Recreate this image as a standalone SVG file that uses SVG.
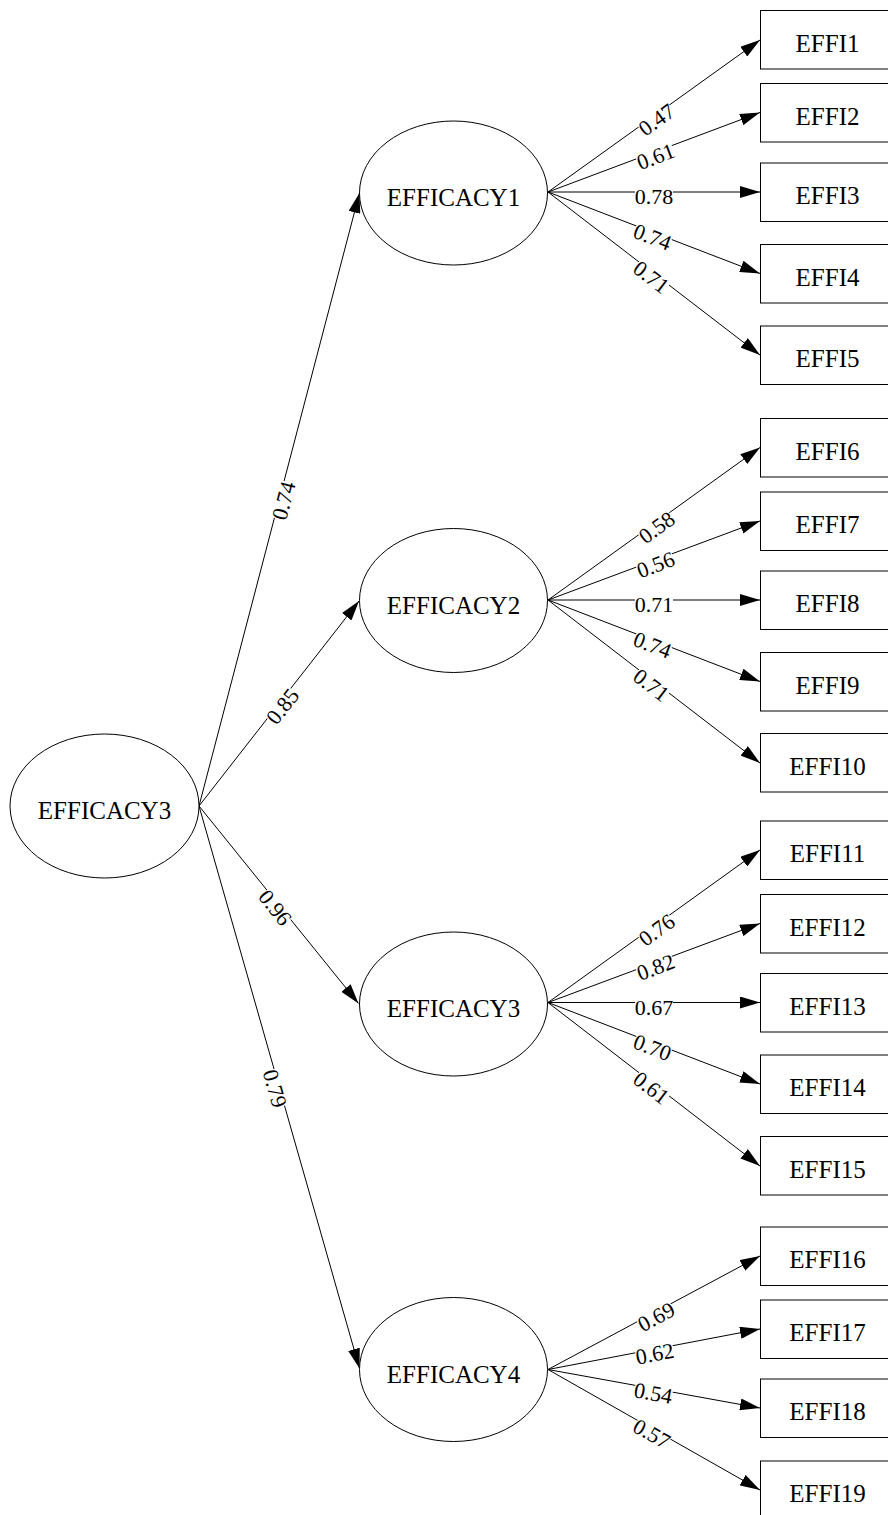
<svg xmlns="http://www.w3.org/2000/svg" width="888" height="1515" viewBox="0 0 888 1515">
<style>
.n{fill:#fff;stroke:#000;stroke-width:1}
.t{font-family:"Liberation Serif","Times New Roman",serif;font-size:25px;fill:#000;text-anchor:middle}
.e{stroke:#000;stroke-width:1;fill:none;marker-end:url(#ah)}
.l{font-family:"Liberation Serif","Times New Roman",serif;font-size:22px;fill:#000;text-anchor:middle}
.lb{fill:#fff;stroke:none}
</style>
<defs>
<marker id="ah" markerUnits="userSpaceOnUse" markerWidth="20" markerHeight="12" refX="20" refY="6" orient="auto">
<path d="M0,0 L20,6 L0,12 z" fill="#000"/>
</marker>
</defs>
<rect width="888" height="1515" fill="#fff"/>
<g id="connectors">
<line class="e" x1="199" y1="806" x2="359.5" y2="193"/>
<line class="e" x1="199" y1="806" x2="359" y2="601"/>
<line class="e" x1="199" y1="806" x2="358.5" y2="1003.5"/>
<line class="e" x1="199" y1="806" x2="359.5" y2="1368.5"/>
<line class="e" x1="548" y1="192" x2="760" y2="40"/>
<line class="e" x1="548" y1="192" x2="760" y2="112.5"/>
<line class="e" x1="548" y1="192" x2="760" y2="192"/>
<line class="e" x1="548" y1="192" x2="760" y2="273.5"/>
<line class="e" x1="548" y1="192" x2="760" y2="355"/>
<line class="e" x1="548" y1="600" x2="760" y2="447.5"/>
<line class="e" x1="548" y1="600" x2="760" y2="521"/>
<line class="e" x1="548" y1="600" x2="760" y2="600"/>
<line class="e" x1="548" y1="600" x2="760" y2="681.5"/>
<line class="e" x1="548" y1="600" x2="760" y2="763"/>
<line class="e" x1="548" y1="1002.5" x2="760" y2="850"/>
<line class="e" x1="548" y1="1002.5" x2="760" y2="923.5"/>
<line class="e" x1="548" y1="1002.5" x2="760" y2="1002.5"/>
<line class="e" x1="548" y1="1002.5" x2="760" y2="1084"/>
<line class="e" x1="548" y1="1002.5" x2="760" y2="1166"/>
<line class="e" x1="548" y1="1369.5" x2="760" y2="1256"/>
<line class="e" x1="548" y1="1369.5" x2="760" y2="1329"/>
<line class="e" x1="548" y1="1369.5" x2="760" y2="1408"/>
<line class="e" x1="548" y1="1369.5" x2="760" y2="1490"/>
<g transform="translate(279.25,499.5) rotate(-75.33)"><rect class="lb" x="-19" y="-4" width="38" height="17"/><text class="l" y="12">0.74</text></g>
<g transform="translate(279,703.5) rotate(-52.03)"><rect class="lb" x="-19" y="-4" width="38" height="17"/><text class="l" y="12">0.85</text></g>
<g transform="translate(278.75,904.75) rotate(51.07)"><rect class="lb" x="-19" y="-4" width="38" height="17"/><text class="l" y="12">0.96</text></g>
<g transform="translate(279.25,1087.25) rotate(74.07)"><rect class="lb" x="-19" y="-4" width="38" height="17"/><text class="l" y="12">0.79</text></g>
<g transform="translate(654,116) rotate(-35.64)"><rect class="lb" x="-19" y="-4" width="38" height="17"/><text class="l" y="12">0.47</text></g>
<g transform="translate(654,152.25) rotate(-20.56)"><rect class="lb" x="-19" y="-4" width="38" height="17"/><text class="l" y="12">0.61</text></g>
<g transform="translate(654,192)"><rect class="lb" x="-19" y="-4" width="38" height="17"/><text class="l" y="12">0.78</text></g>
<g transform="translate(654,232.75) rotate(21.03)"><rect class="lb" x="-19" y="-4" width="38" height="17"/><text class="l" y="12">0.74</text></g>
<g transform="translate(654,273.5) rotate(37.56)"><rect class="lb" x="-19" y="-4" width="38" height="17"/><text class="l" y="12">0.71</text></g>
<g transform="translate(654,523.75) rotate(-35.73)"><rect class="lb" x="-19" y="-4" width="38" height="17"/><text class="l" y="12">0.58</text></g>
<g transform="translate(654,560.5) rotate(-20.44)"><rect class="lb" x="-19" y="-4" width="38" height="17"/><text class="l" y="12">0.56</text></g>
<g transform="translate(654,600)"><rect class="lb" x="-19" y="-4" width="38" height="17"/><text class="l" y="12">0.71</text></g>
<g transform="translate(654,640.75) rotate(21.03)"><rect class="lb" x="-19" y="-4" width="38" height="17"/><text class="l" y="12">0.74</text></g>
<g transform="translate(654,681.5) rotate(37.56)"><rect class="lb" x="-19" y="-4" width="38" height="17"/><text class="l" y="12">0.71</text></g>
<g transform="translate(654,926.25) rotate(-35.73)"><rect class="lb" x="-19" y="-4" width="38" height="17"/><text class="l" y="12">0.76</text></g>
<g transform="translate(654,963) rotate(-20.44)"><rect class="lb" x="-19" y="-4" width="38" height="17"/><text class="l" y="12">0.82</text></g>
<g transform="translate(654,1002.5)"><rect class="lb" x="-19" y="-4" width="38" height="17"/><text class="l" y="12">0.67</text></g>
<g transform="translate(654,1043.25) rotate(21.03)"><rect class="lb" x="-19" y="-4" width="38" height="17"/><text class="l" y="12">0.70</text></g>
<g transform="translate(654,1084.25) rotate(37.64)"><rect class="lb" x="-19" y="-4" width="38" height="17"/><text class="l" y="12">0.61</text></g>
<g transform="translate(654,1312.75) rotate(-28.16)"><rect class="lb" x="-19" y="-4" width="38" height="17"/><text class="l" y="12">0.69</text></g>
<g transform="translate(654,1349.25) rotate(-10.82)"><rect class="lb" x="-19" y="-4" width="38" height="17"/><text class="l" y="12">0.62</text></g>
<g transform="translate(654,1388.75) rotate(10.29)"><rect class="lb" x="-19" y="-4" width="38" height="17"/><text class="l" y="12">0.54</text></g>
<g transform="translate(654,1429.75) rotate(29.62)"><rect class="lb" x="-19" y="-4" width="38" height="17"/><text class="l" y="12">0.57</text></g>
</g>
<g id="EFFICACY3_top"><ellipse class="n" cx="104.5" cy="806" rx="94.5" ry="72"/><text class="t" x="104.5" y="819">EFFICACY3</text></g>
<g id="EFFICACY1"><ellipse class="n" cx="453.5" cy="193" rx="94" ry="72"/><text class="t" x="453.5" y="206">EFFICACY1</text></g>
<g id="EFFICACY2"><ellipse class="n" cx="453.5" cy="600.5" rx="94" ry="72"/><text class="t" x="453.5" y="613.5">EFFICACY2</text></g>
<g id="EFFICACY3"><ellipse class="n" cx="453.5" cy="1004" rx="94" ry="72"/><text class="t" x="453.5" y="1017">EFFICACY3</text></g>
<g id="EFFICACY4"><ellipse class="n" cx="453.5" cy="1369.5" rx="94" ry="72"/><text class="t" x="453.5" y="1382.5">EFFICACY4</text></g>
<g id="EFFI1"><rect class="n" x="760.5" y="10.5" width="135" height="58.5"/><text class="t" x="827.5" y="52">EFFI1</text></g>
<g id="EFFI2"><rect class="n" x="760.5" y="83.5" width="135" height="58.5"/><text class="t" x="827.5" y="124.5">EFFI2</text></g>
<g id="EFFI3"><rect class="n" x="760.5" y="163" width="135" height="58.5"/><text class="t" x="827.5" y="204">EFFI3</text></g>
<g id="EFFI4"><rect class="n" x="760.5" y="244.5" width="135" height="58.5"/><text class="t" x="827.5" y="285.5">EFFI4</text></g>
<g id="EFFI5"><rect class="n" x="760.5" y="326" width="135" height="58.5"/><text class="t" x="827.5" y="367">EFFI5</text></g>
<g id="EFFI6"><rect class="n" x="760.5" y="418.5" width="135" height="58.5"/><text class="t" x="827.5" y="459.5">EFFI6</text></g>
<g id="EFFI7"><rect class="n" x="760.5" y="492" width="135" height="58.5"/><text class="t" x="827.5" y="533">EFFI7</text></g>
<g id="EFFI8"><rect class="n" x="760.5" y="571" width="135" height="58.5"/><text class="t" x="827.5" y="612">EFFI8</text></g>
<g id="EFFI9"><rect class="n" x="760.5" y="652.5" width="135" height="58.5"/><text class="t" x="827.5" y="693.5">EFFI9</text></g>
<g id="EFFI10"><rect class="n" x="760.5" y="733.5" width="135" height="58.5"/><text class="t" x="827.5" y="775">EFFI10</text></g>
<g id="EFFI11"><rect class="n" x="760.5" y="821" width="135" height="58.5"/><text class="t" x="827.5" y="862">EFFI11</text></g>
<g id="EFFI12"><rect class="n" x="760.5" y="894.5" width="135" height="58.5"/><text class="t" x="827.5" y="935.5">EFFI12</text></g>
<g id="EFFI13"><rect class="n" x="760.5" y="973.5" width="135" height="58.5"/><text class="t" x="827.5" y="1014.5">EFFI13</text></g>
<g id="EFFI14"><rect class="n" x="760.5" y="1055" width="135" height="58.5"/><text class="t" x="827.5" y="1096">EFFI14</text></g>
<g id="EFFI15"><rect class="n" x="760.5" y="1136.5" width="135" height="58.5"/><text class="t" x="827.5" y="1178">EFFI15</text></g>
<g id="EFFI16"><rect class="n" x="760.5" y="1227" width="135" height="58.5"/><text class="t" x="827.5" y="1268">EFFI16</text></g>
<g id="EFFI17"><rect class="n" x="760.5" y="1300" width="135" height="58.5"/><text class="t" x="827.5" y="1341">EFFI17</text></g>
<g id="EFFI18"><rect class="n" x="760.5" y="1379" width="135" height="58.5"/><text class="t" x="827.5" y="1420">EFFI18</text></g>
<g id="EFFI19"><rect class="n" x="760.5" y="1461" width="135" height="58.5"/><text class="t" x="827.5" y="1502">EFFI19</text></g>
</svg>
